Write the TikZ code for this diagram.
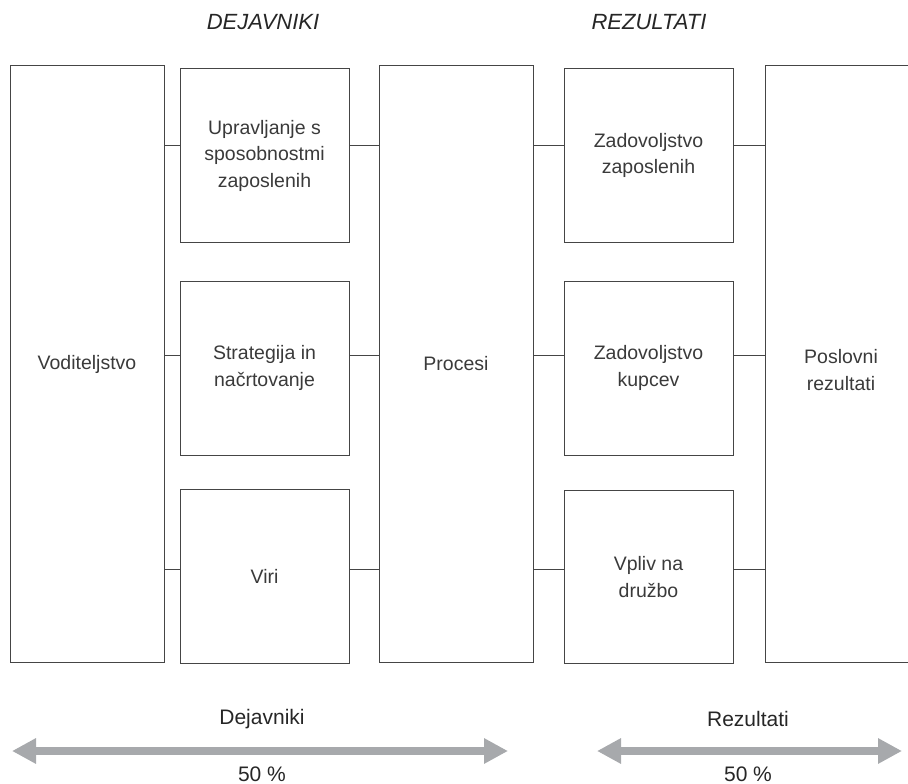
\documentclass[tikz,border=0pt]{standalone}
\usepackage{fontspec}
\setmainfont{Liberation Sans}
\usetikzlibrary{arrows.meta}
\definecolor{ink}{HTML}{3A3A3A}
\definecolor{frame}{HTML}{454545}
\definecolor{band}{HTML}{A7A9AC}
\tikzset{
  box/.style={draw=frame, line width=1pt, rectangle, align=center, text=ink,
    inner sep=0pt, font=\fontsize{19.5}{26.5}\selectfont},
  link/.style={draw=frame, line width=1pt},
  heading/.style={text=black!85, font=\fontsize{22}{26}\selectfont\itshape},
  label/.style={text=black!85, font=\fontsize{21}{25}\selectfont},
  span/.style={draw=band, line width=8pt,
    {Triangle[length=24pt,width=24pt]}-{Triangle[length=24pt,width=24pt]}}
}
\begin{document}
\begin{tikzpicture}[x=1pt,y=-1pt]
\useasboundingbox (0,0) rectangle (908,784);

% column headings
\node[heading] (hd) at (263,22) {DEJAVNIKI};
\node[heading] (hr) at (649,22) {REZULTATI};

% tall columns
\node[box, minimum width=154pt, minimum height=596pt] (vod) at (87,364) {Voditeljstvo};
\node[box, minimum width=154pt, minimum height=596pt] (pro) at (456,364) {Procesi};

% enablers
\node[box, minimum width=169pt, minimum height=173pt] (upr) at (264.5,155.5)
  {Upravljanje s\\sposobnostmi\\zaposlenih};
\node[box, minimum width=169pt, minimum height=174pt] (str) at (264.5,368)
  {Strategija in\\načrtovanje};
\node[box, minimum width=169pt, minimum height=174pt] (vir) at (264.5,576) {Viri};

% results
\node[box, minimum width=169pt, minimum height=173pt] (zz) at (648.5,155.5)
  {Zadovoljstvo\\zaposlenih};
\node[box, minimum width=169pt, minimum height=174pt] (zk) at (648.5,368)
  {Zadovoljstvo\\kupcev};
\node[box, minimum width=169pt, minimum height=173pt] (vd) at (648.5,577)
  {Vpliv na\\družbo};

% business results column, open to the right
\draw[link] (908,66) -- (765,66) -- (765,662) -- (908,662);
\node[box, draw=none] (pos) at (841,370) {Poslovni\\rezultati};
\coordinate (posw) at (765,364);

% connectors
\foreach \r/\a/\b in {145/upr/zz, 355/str/zk, 569/vir/vd}{
  \draw[link] (vod.east |- 0,\r) -- (\a.west |- 0,\r);
  \draw[link] (\a.east |- 0,\r) -- (pro.west |- 0,\r);
  \draw[link] (pro.east |- 0,\r) -- (\b.west |- 0,\r);
  \draw[link] (\b.east |- 0,\r) -- (posw |- 0,\r);
}

% share arrows
\node[label] (dl) at (262,719) {Dejavniki};
\node[label] (dp) at (262,774) {50 \%};
\coordinate (d1) at (12,751);
\coordinate (d2) at (508,751);
\draw[span] (d1) -- (d2);

\node[label] (rl) at (748,719) {Rezultati};
\node[label] (rp) at (748,774) {50 \%};
\coordinate (r1) at (597,751);
\coordinate (r2) at (902,751);
\draw[span] (r1) -- (r2);
\end{tikzpicture}
\end{document}
